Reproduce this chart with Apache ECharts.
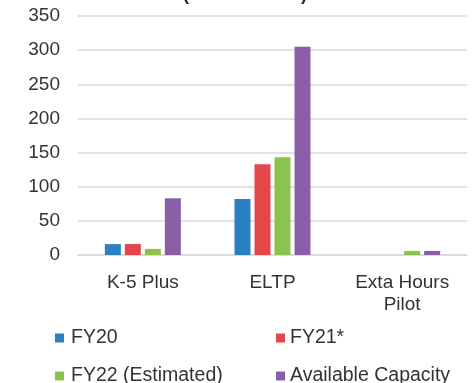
<!DOCTYPE html>
<html>
<head>
<meta charset="utf-8">
<script src="https://cdn.jsdelivr.net/npm/echarts@6/dist/echarts.min.js"></script>
<style>
  html, body { margin: 0; padding: 0; background: #fff; }
  #chart { width: 474px; height: 383px; }
</style>
</head>
<body>
<div id="chart"></div>
<script>
// Program enrollment by fiscal year (in thousands)
const categories = ['K-5 Plus', 'ELTP', 'Exta Hours\nPilot'];
const seriesNames = ['FY20', 'FY21*', 'FY22 (Estimated)', 'Available Capacity'];
const fy20 = [16, 82, 0];
const fy21 = [16, 133, 0];
const fy22 = [9, 143, 6];
const capacity = [83, 305, 6];
const yTicks = [0, 50, 100, 150, 200, 250, 300, 350];

const colors = ['#2b7fc3', '#e4474b', '#8cc24e', '#8c5ea8'];
const values = [fy20, fy21, fy22, capacity];
const font = 'Liberation Sans, Arial, sans-serif';
const fs = 19;

const chart = echarts.init(document.getElementById('chart'), null, { renderer: 'canvas' });

const legendPos = [
  { left: 55, top: 328, gap: 7 },
  { left: 276, top: 328, gap: 5 },
  { left: 55, top: 366, gap: 7 },
  { left: 276, top: 366, gap: 5 }
];

chart.setOption({
  animation: false,
  color: colors,
  graphic: [{
    type: 'text',
    x: 245,
    y: -14,
    style: {
      text: '(in thousands)',
      font: 'bold 18px ' + font,
      fill: '#262626',
      textAlign: 'center'
    }
  }],
  legend: seriesNames.map((name, i) => ({
    data: [name],
    left: legendPos[i].left,
    top: legendPos[i].top,
    icon: 'rect',
    itemWidth: 9,
    itemHeight: 9,
    itemGap: legendPos[i].gap,
    padding: 0,
    selectedMode: false,
    textStyle: { fontFamily: font, fontSize: 19.5, color: '#333', padding: [0, 0, 0, legendPos[i].gap - 5] }
  })),
  grid: { left: 78, right: 7, top: 16, bottom: 128, containLabel: false },
  xAxis: {
    type: 'category',
    data: categories,
    axisTick: { show: false },
    axisLine: { lineStyle: { color: '#d9d9d9', width: 1.5 } },
    axisLabel: {
      fontFamily: font, fontSize: fs, color: '#333',
      margin: 17, lineHeight: 22, interval: 0
    }
  },
  yAxis: {
    type: 'value',
    min: yTicks[0],
    max: yTicks[yTicks.length - 1],
    interval: 50,
    axisLine: { show: false },
    axisTick: { show: false },
    splitLine: { lineStyle: { color: '#d9d9d9', width: 1.5 } },
    axisLabel: { fontFamily: font, fontSize: fs, color: '#333', margin: 18 }
  },
  series: seriesNames.map((name, i) => ({
    name: name,
    type: 'bar',
    data: values[i],
    barWidth: 16,
    barGap: '25%',
    itemStyle: { color: colors[i] }
  }))
});
</script>
</body>
</html>
